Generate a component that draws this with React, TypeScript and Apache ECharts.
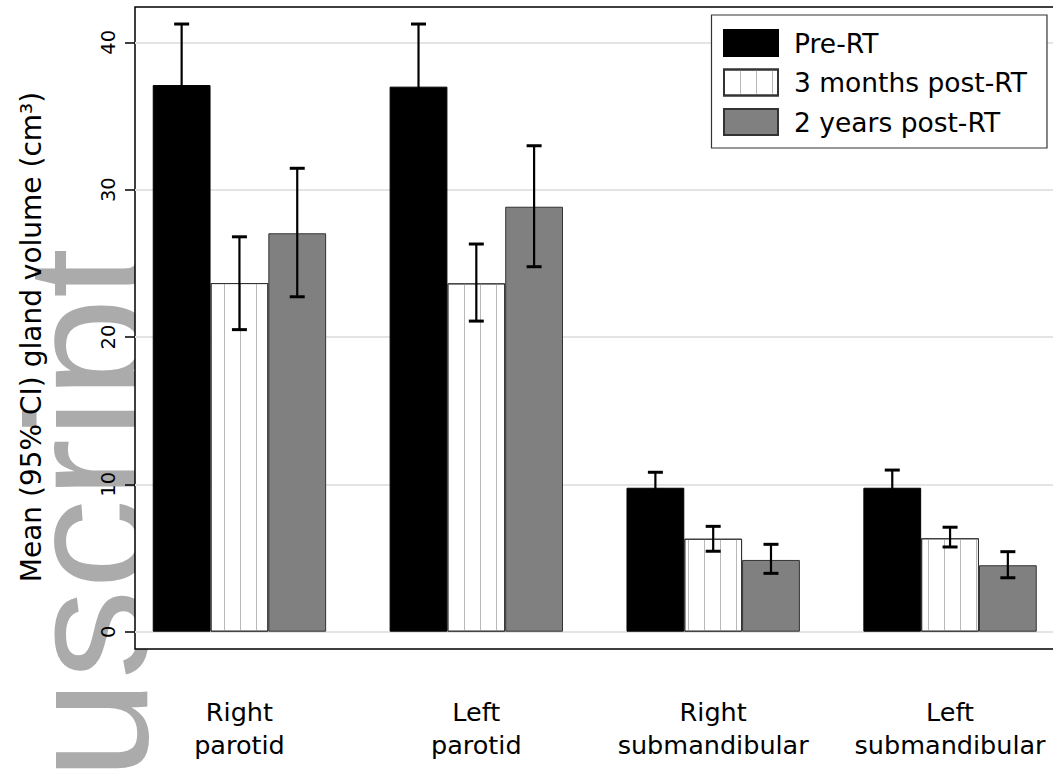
import React, { useEffect, useRef } from "react";
import * as echarts from "echarts";

const categories = ["Right\nparotid", "Left\nparotid", "Right\nsubmandibular", "Left\nsubmandibular"];
const seriesNames = ["Pre-RT", "3 months post-RT", "2 years post-RT"];

const preMean = [37.1, 36.99, 9.77, 9.77];
const preLow = [32.96, 32.74, 8.72, 8.57];
const preHigh = [41.24, 41.24, 10.82, 10.97];

const m3Mean = [23.66, 23.64, 6.31, 6.34];
const m3Low = [20.5, 21.08, 5.46, 5.75];
const m3High = [26.8, 26.31, 7.15, 7.09];

const y2Mean = [27.04, 28.84, 4.87, 4.51];
const y2Low = [22.73, 24.77, 3.96, 3.66];
const y2High = [31.45, 32.98, 5.93, 5.43];

const yTicks = [0, 10, 20, 30, 40];
const yTitle = "Mean (95% CI) gland volume (cm³)";
const watermark = "nuscript";

const FONT = "DejaVu Sans, Verdana, sans-serif";
const WM_FONT = "Liberation Sans, Arial, Helvetica, sans-serif";
const BAR_FRAC = 0.244;

export default function App() {
  const ref = useRef<HTMLDivElement>(null);
  useEffect(() => {
    if (!ref.current) return;
    document.documentElement.style.overflow = "hidden";
    document.body.style.overflow = "hidden";
    const chart = echarts.init(ref.current, null, { renderer: "svg" });

    const errData: number[][] = [];
    [
      [preLow, preHigh],
      [m3Low, m3High],
      [y2Low, y2High],
    ].forEach(([lo, hi], k) => {
      categories.forEach((_, i) => errData.push([i, lo[i], hi[i], k]));
    });

    const option: any = {
      animation: false,
      backgroundColor: "#fff",
      textStyle: { fontFamily: FONT },
      graphic: [
        {
          type: "text",
          z: -10,
          x: 173,
          y: 248,
          rotation: Math.PI / 2,
          scaleX: 1.05,
          scaleY: 1,
          style: {
            text: watermark,
            fontFamily: WM_FONT,
            fontSize: 172,
            fill: "#ababab",
            textAlign: "right",
            textVerticalAlign: "bottom",
          },
        },
      ],
      grid: [
        { left: 135, top: 7, right: 20, bottom: 121, show: true, backgroundColor: "#fff", borderColor: "#000", borderWidth: 1.5, z: -1 },
        { left: 135, top: 42.3, right: 20, height: 589.4 },
        { left: 121, top: 42.3, width: 947.5, height: 589.4 },
      ],
      xAxis: [
        { gridIndex: 0, type: "value", show: false },
        { gridIndex: 1, type: "value", show: false },
        {
          gridIndex: 2,
          type: "category",
          data: categories,
          axisLine: { show: false },
          axisTick: { show: false },
          axisLabel: { margin: 64, fontSize: 25.5, lineHeight: 33, color: "#000", fontFamily: FONT, interval: 0 },
        },
      ],
      yAxis: [
        { gridIndex: 0, type: "value", show: false },
        {
          gridIndex: 1,
          type: "value",
          min: 0,
          max: 40,
          interval: 10,
          axisLine: { show: false },
          axisTick: { show: true, length: 10, lineStyle: { color: "#000", width: 1.5 } },
          axisLabel: { rotate: 90, margin: 17, fontSize: 19.5, color: "#000", fontFamily: FONT, formatter: (v: number) => (yTicks.includes(v) ? String(v) : "") },
          splitLine: { show: true, lineStyle: { color: "#e4e4e4", width: 2 } },
          name: yTitle,
          nameLocation: "middle",
          nameGap: 90,
          nameRotate: 90,
          nameTextStyle: { fontSize: 28, color: "#000", fontFamily: FONT },
        },
        { gridIndex: 2, type: "value", min: 0, max: 40, show: false },
      ],
      legend: {
        data: seriesNames,
        orient: "vertical",
        left: 711.5,
        top: 15,
        icon: "rect",
        itemWidth: 54,
        itemHeight: 26,
        itemGap: 11.5,
        padding: [14, 20, 12, 11.5],
        borderColor: "#333",
        borderWidth: 1.2,
        backgroundColor: "#fff",
        textStyle: { fontSize: 26.5, color: "#000", fontFamily: FONT, lineHeight: 26, padding: [0, 0, 0, 11] },
      },
      series: [
        {
          name: seriesNames[0],
          type: "bar",
          xAxisIndex: 2,
          yAxisIndex: 2,
          data: preMean,
          barWidth: (BAR_FRAC * 100).toFixed(1) + "%",
          barGap: "0%",
          itemStyle: { color: "#000", borderColor: "#000", borderWidth: 1 },
        },
        {
          name: seriesNames[1],
          type: "bar",
          xAxisIndex: 2,
          yAxisIndex: 2,
          data: m3Mean,
          barWidth: (BAR_FRAC * 100).toFixed(1) + "%",
          barGap: "0%",
          itemStyle: {
            color: "#fff",
            borderColor: "#333",
            borderWidth: 1,
            decal: { symbol: "rect", symbolSize: 1, dashArrayX: [1, 15], dashArrayY: [4, 0], color: "#b8b8b8", rotation: 0 },
          },
        },
        {
          name: seriesNames[2],
          type: "bar",
          xAxisIndex: 2,
          yAxisIndex: 2,
          data: y2Mean,
          barWidth: (BAR_FRAC * 100).toFixed(1) + "%",
          barGap: "0%",
          itemStyle: { color: "#808080", borderColor: "#333", borderWidth: 1 },
        },
        {
          type: "custom",
          xAxisIndex: 2,
          yAxisIndex: 2,
          z: 5,
          data: errData,
          encode: { x: 0, y: [1, 2] },
          renderItem: (params: any, api: any) => {
            const cat = api.value(0);
            const lo = api.value(1);
            const hi = api.value(2);
            const k = api.value(3);
            const bw = api.size([1, 0])[0];
            const pHi = api.coord([cat, hi]);
            const pLo = api.coord([cat, lo]);
            const x = pHi[0] + (k - 1) * bw * BAR_FRAC;
            const cap = 7.5;
            const st = { stroke: "#000", lineWidth: 2.2 };
            return {
              type: "group",
              children: [
                { type: "line", shape: { x1: x, y1: pHi[1], x2: x, y2: pLo[1] }, style: st },
                { type: "line", shape: { x1: x - cap, y1: pHi[1], x2: x + cap, y2: pHi[1] }, style: { ...st, lineWidth: 3 } },
                { type: "line", shape: { x1: x - cap, y1: pLo[1], x2: x + cap, y2: pLo[1] }, style: { ...st, lineWidth: 3 } },
              ],
            };
          },
        },
      ],
    };
    chart.setOption(option);
    return () => chart.dispose();
  }, []);
  return <div ref={ref} style={{ position: "fixed", left: 0, top: 0, width: 1100, height: 770 }} />;
}
